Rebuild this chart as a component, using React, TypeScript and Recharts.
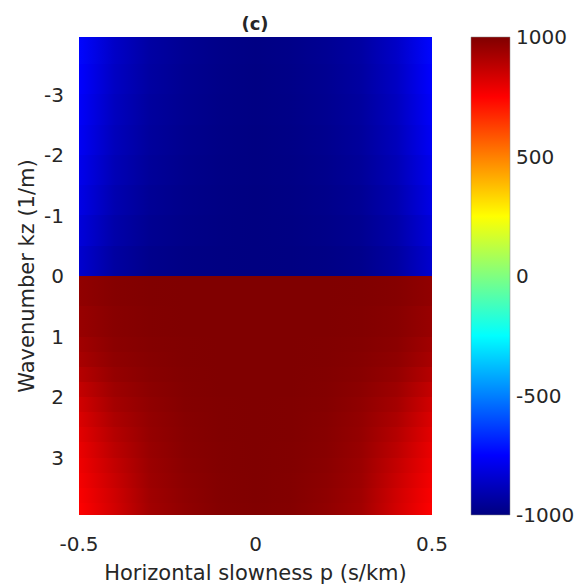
import React from 'react';
import { ComposedChart, XAxis, YAxis, ReferenceArea, Label } from 'recharts';

// Horizontal slowness p (s/km) sample positions (colour stops along each row)
const P_STOPS = [-0.5, -0.4, -0.3, -0.2, -0.1, 0, 0.1, 0.2, 0.3, 0.4, 0.5];
// Wavenumber kz (1/m) row edges
const KZ_EDGES = [
  -3.95, -3.5, -3, -2.5, -2, -1.5, -1, -0.5, 0, 0.5, 1,
  1.25, 1.5, 1.75, 2, 2.25, 2.5, 2.75, 3, 3.25, 3.5, 3.75, 3.95,
];
// Field values for each row (top to bottom), sampled at P_STOPS
const ROW_VALUES = [
  [-740, -860, -930, -962, -982, -992, -982, -962, -930, -860, -740],
  [-750, -868, -935, -965, -984, -993, -984, -965, -935, -868, -750],
  [-760, -876, -940, -968, -985, -994, -985, -968, -940, -876, -760],
  [-770, -884, -945, -971, -987, -995, -987, -971, -945, -884, -770],
  [-785, -893, -950, -975, -989, -996, -989, -975, -950, -893, -785],
  [-800, -905, -957, -979, -991, -997, -991, -979, -957, -905, -800],
  [-820, -918, -965, -984, -993, -998, -993, -984, -965, -918, -820],
  [-845, -935, -975, -989, -995, -998, -995, -989, -975, -935, -845],
  [965, 990, 997, 999, 1000, 1000, 1000, 999, 997, 990, 965],
  [952, 984, 995, 999, 1000, 1000, 1000, 999, 995, 984, 952],
  [935, 978, 991, 998, 1000, 1000, 1000, 998, 991, 978, 935],
  [920, 970, 988, 997, 1000, 1000, 1000, 997, 988, 970, 920],
  [895, 958, 983, 996, 999, 1000, 999, 996, 983, 958, 895],
  [865, 942, 976, 994, 999, 1000, 999, 994, 976, 942, 865],
  [840, 928, 968, 991, 998, 1000, 998, 991, 968, 928, 840],
  [820, 912, 962, 988, 998, 1000, 998, 988, 962, 912, 820],
  [805, 897, 957, 986, 997, 1000, 997, 986, 957, 897, 805],
  [790, 883, 952, 984, 996, 1000, 996, 984, 952, 883, 790],
  [780, 868, 947, 980, 995, 999, 995, 980, 947, 868, 780],
  [770, 855, 942, 976, 994, 999, 994, 976, 942, 855, 770],
  [760, 845, 937, 972, 993, 999, 993, 972, 937, 845, 760],
  [752, 838, 933, 968, 991, 998, 991, 968, 933, 838, 752],
];
const X_TICKS = [-0.5, 0, 0.5];
const Y_TICKS = [-3, -2, -1, 0, 1, 2, 3];
const CB_TICKS = [-1000, -500, 0, 500, 1000];
const CB_LEVELS = [1000, 875, 750, 625, 500, 375, 250, 125, 0, -125, -250, -375, -500, -625, -750, -875, -1000];

const V_MIN = -1000;
const V_MAX = 1000;

function jet(v: number): string {
  const t = Math.max(0, Math.min(1, (v - V_MIN) / (V_MAX - V_MIN)));
  const c = (x: number) => Math.round(255 * Math.max(0, Math.min(1, x)));
  const r = c(1.5 - Math.abs(4 * t - 3));
  const g = c(1.5 - Math.abs(4 * t - 2));
  const b = c(1.5 - Math.abs(4 * t - 1));
  return `rgb(${r},${g},${b})`;
}

const FONT = '"DejaVu Sans", "Liberation Sans", Arial, sans-serif';
const TXT = '#262626';
const tickStyle = { fontSize: 20, fill: TXT, fontFamily: FONT };
const titleStyle = { fontSize: 21, fill: TXT, fontFamily: FONT };

export default function App() {
  const pMin = P_STOPS[0];
  const pMax = P_STOPS[P_STOPS.length - 1];
  return (
    <div style={{ position: 'absolute', left: 0, top: 0, width: 576, height: 586, background: '#fff', fontFamily: FONT }}>
      <div style={{ position: 'absolute', left: 0, top: 0 }}>
        <ComposedChart width={576} height={586} data={[]} margin={{ top: 37, right: 144, bottom: 6, left: 19 }}>
          <defs>
            {ROW_VALUES.map((row, i) => (
              <linearGradient key={i} id={`row${i}`} x1="0" y1="0" x2="1" y2="0">
                {row.map((v, j) => (
                  <stop key={j} offset={(P_STOPS[j] - pMin) / (pMax - pMin)} stopColor={jet(v)} />
                ))}
              </linearGradient>
            ))}
          </defs>
          <XAxis
            type="number"
            dataKey="p"
            domain={[pMin, pMax]}
            ticks={X_TICKS}
            allowDataOverflow
            height={65}
            axisLine={false}
            tickLine={false}
            tickSize={6}
            tickMargin={16}
            tick={tickStyle}
          >
            <Label value="Horizontal slowness p (s/km)" position="insideBottom" offset={0} style={titleStyle} />
          </XAxis>
          <YAxis
            type="number"
            dataKey="kz"
            domain={[KZ_EDGES[0], KZ_EDGES[KZ_EDGES.length - 1]]}
            ticks={Y_TICKS}
            reversed
            allowDataOverflow
            width={60}
            axisLine={false}
            tickLine={false}
            tickSize={6}
            tickMargin={9}
            tick={tickStyle}
          >
            <Label
              value="Wavenumber kz (1/m)"
              angle={-90}
              position="insideLeft"
              offset={8}
              style={{ ...titleStyle, textAnchor: 'middle' }}
            />
          </YAxis>
          {ROW_VALUES.map((row, i) => (
            <ReferenceArea
              key={i}
              x1={pMin}
              x2={pMax}
              y1={KZ_EDGES[i]}
              y2={KZ_EDGES[i + 1]}
              fill={`url(#row${i})`}
              fillOpacity={1}
              stroke="none"
              shapeRendering="crispEdges"
            />
          ))}
        </ComposedChart>
      </div>
      <div style={{ position: 'absolute', left: 0, top: 0 }}>
        <ComposedChart width={576} height={586} data={[]} margin={{ top: 37, right: 0, bottom: 71, left: 471 }}>
          <defs>
            <linearGradient id="jetbar" x1="0" y1="0" x2="0" y2="1">
              {CB_LEVELS.map((v, i) => (
                <stop key={i} offset={(V_MAX - v) / (V_MAX - V_MIN)} stopColor={jet(v)} />
              ))}
            </linearGradient>
          </defs>
          <XAxis
            type="number"
            dataKey="u"
            domain={[0, 1]}
            ticks={[0, 1]}
            allowDataOverflow
            height={0}
            tick={false}
            axisLine={false}
            tickLine={false}
          />
          <YAxis
            type="number"
            dataKey="v"
            orientation="right"
            domain={[V_MIN, V_MAX]}
            ticks={CB_TICKS}
            allowDataOverflow
            width={66}
            axisLine={false}
            tickLine={false}
            tickSize={0}
            tickMargin={6}
            tick={tickStyle}
          />
          <ReferenceArea x1={0} x2={1} y1={V_MIN} y2={V_MAX} fill="url(#jetbar)" fillOpacity={1} stroke="#888" strokeWidth={0.5} />
        </ComposedChart>
      </div>
      <div
        style={{
          position: 'absolute',
          left: 205,
          width: 100,
          top: 13,
          textAlign: 'center',
          fontSize: 18,
          fontWeight: 'bold',
          color: TXT,
          lineHeight: '22px',
        }}
      >
        (c)
      </div>
    </div>
  );
}
